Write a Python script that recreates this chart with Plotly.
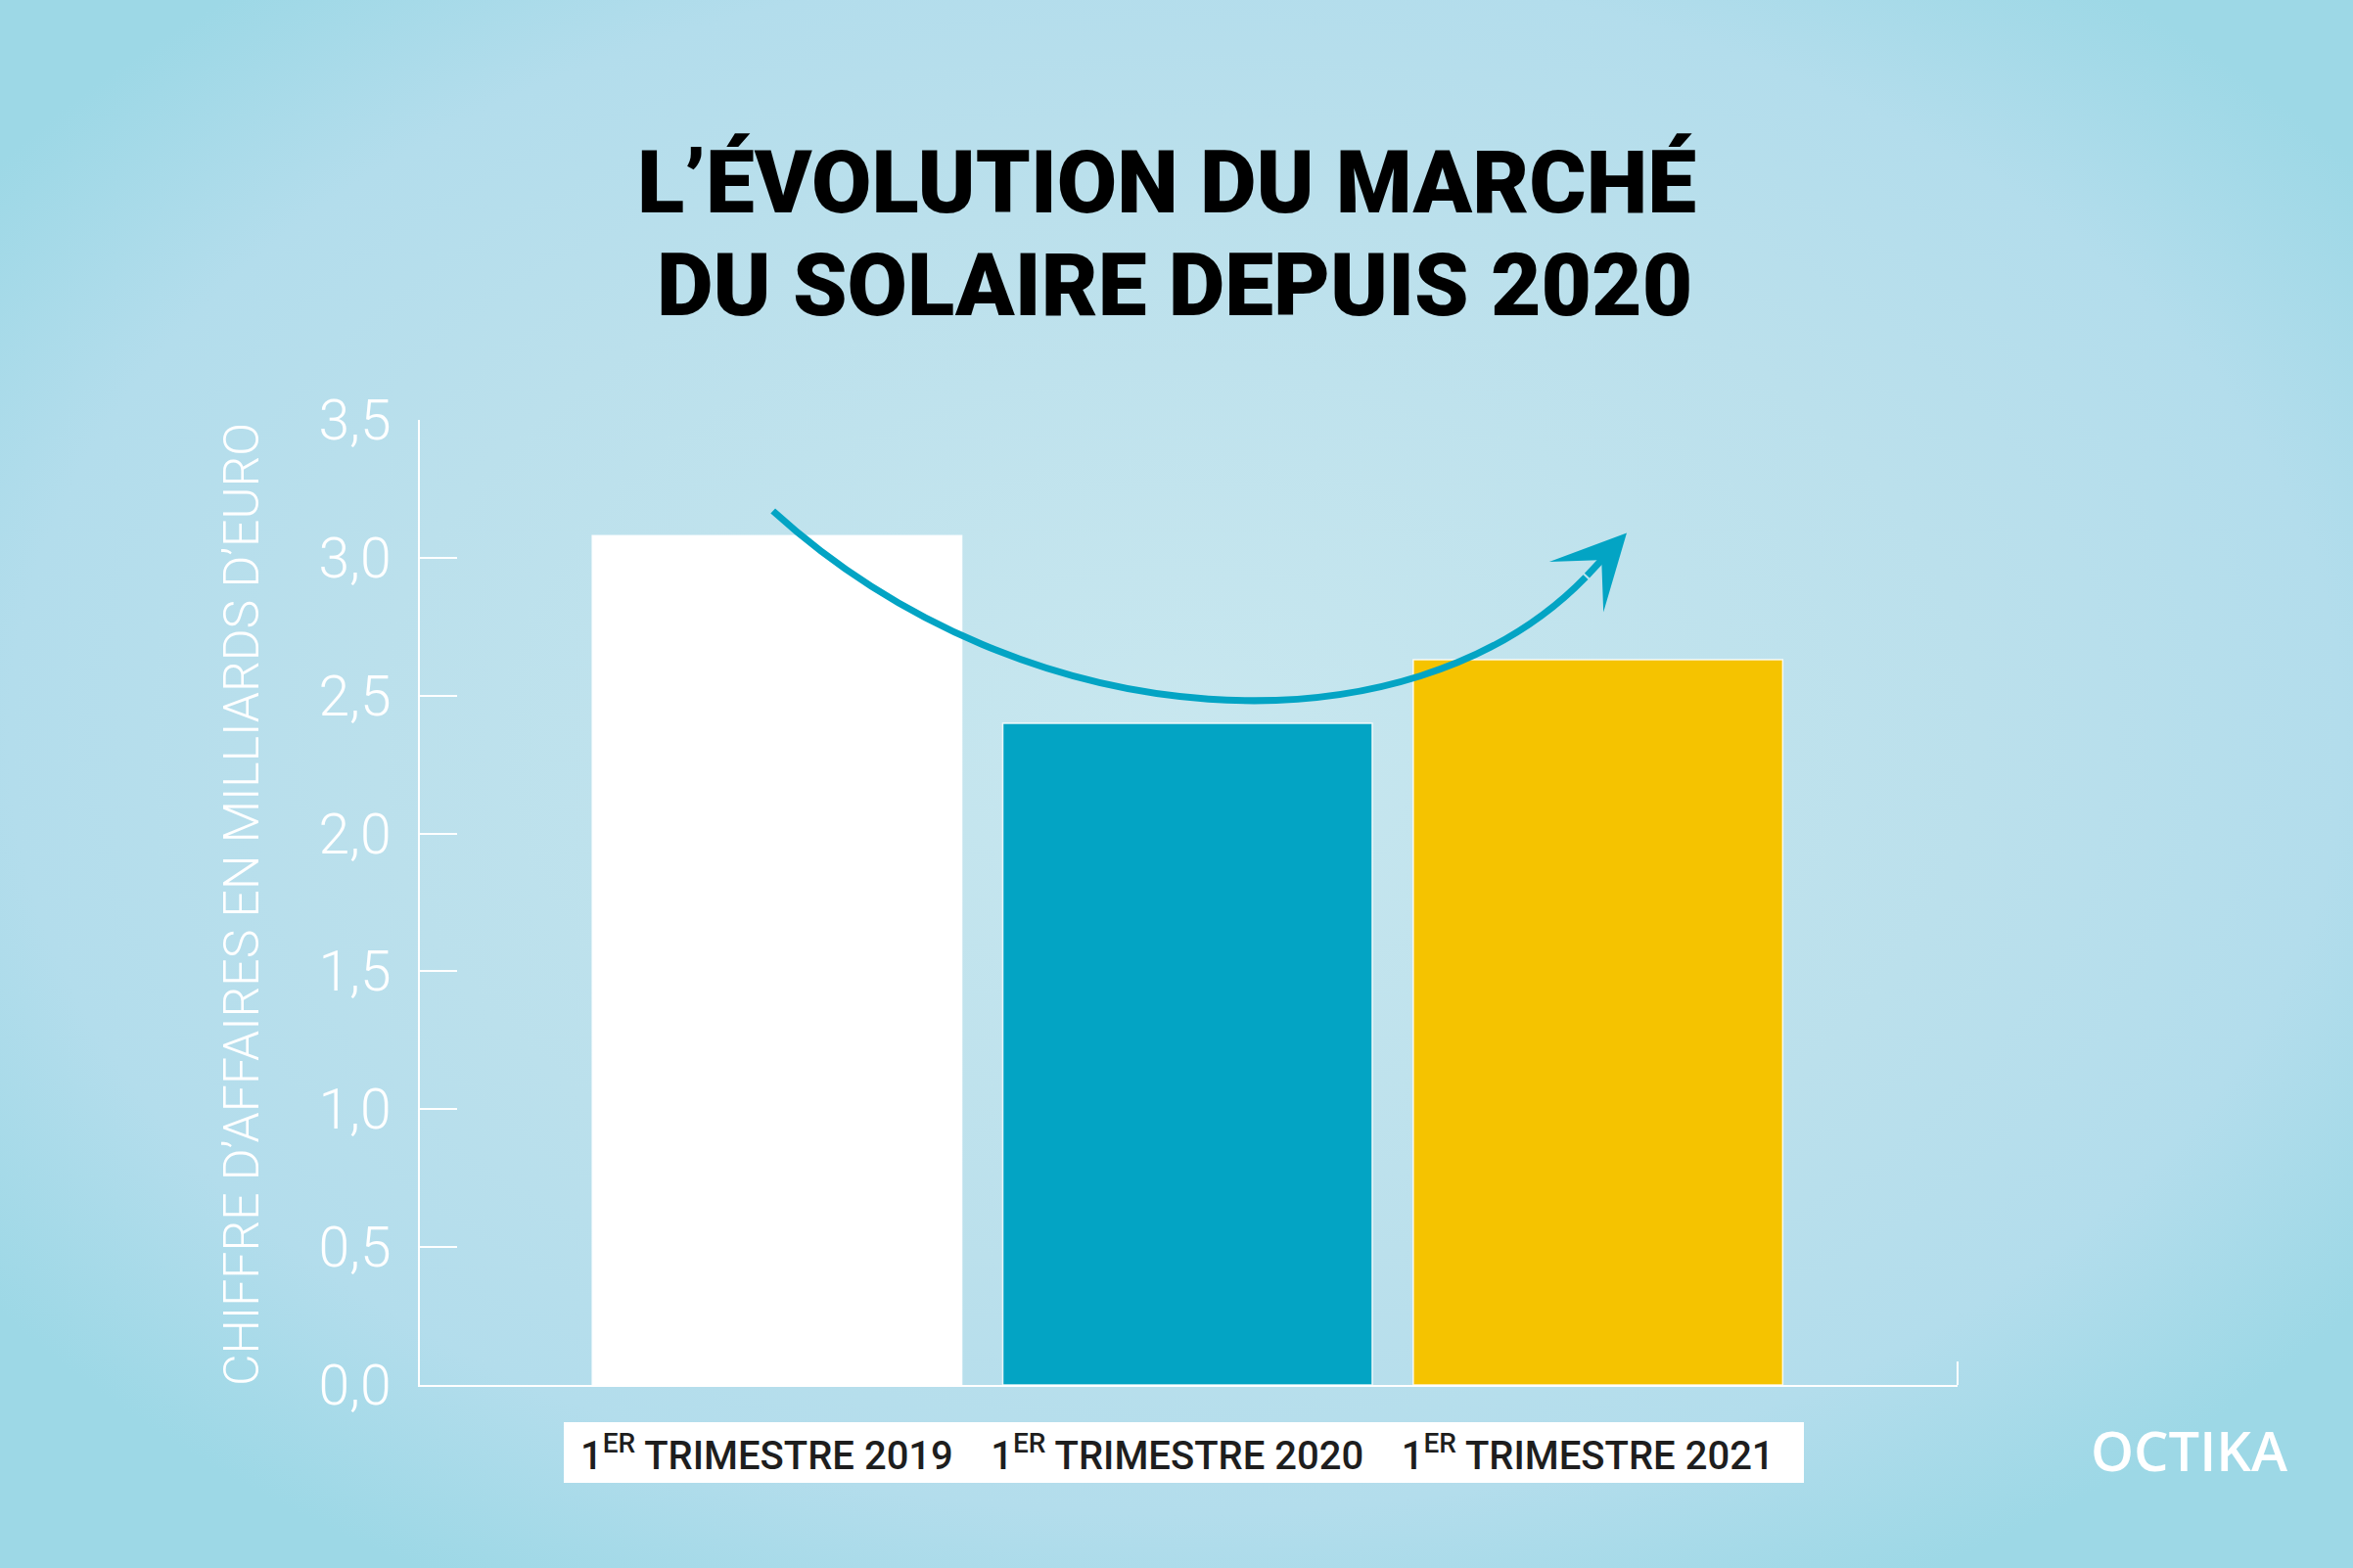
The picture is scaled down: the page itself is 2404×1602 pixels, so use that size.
import base64

import plotly.graph_objects as go

BG_CENTER = "#c8e7ef"
BG_MID = "#b3ddec"
BG_EDGE = "#9dd8e6"
TEAL = "#03a4c4"
YELLOW = "#f5c300"
WHITE = "#ffffff"
TEXT_DARK = "#1e1e1e"

# data
quarters = ["1<sup>ER</sup> TRIMESTRE 2019", "1<sup>ER</sup> TRIMESTRE 2020", "1<sup>ER</sup> TRIMESTRE 2021"]
revenue_bn = [3.08, 2.40, 2.63]
bar_colors = [WHITE, TEAL, YELLOW]
y_ticks = [0.0, 0.5, 1.0, 1.5, 2.0, 2.5, 3.0, 3.5]
title_lines = ["L’ÉVOLUTION DU MARCHÉ", "DU SOLAIRE DEPUIS 2020"]

# decorative arrow (data units): start, two control points, tail of head, tip
arrow_start = (-0.01, 3.17)
arrow_c1 = (0.61, 2.33)
arrow_c2 = (1.54, 2.27)
arrow_tail = (1.97, 2.93)
arrow_tip = (2.07, 3.09)

W, H = 2404, 1602
M_L, M_R, M_T, M_B = 429, 404, 429, 187
PW, PH = W - M_L - M_R, H - M_T - M_B


def _bg_image() -> str:
    svg = (
        '<svg xmlns="http://www.w3.org/2000/svg" width="2404" height="1602" '
        'preserveAspectRatio="none" viewBox="0 0 2404 1602">'
        '<defs><radialGradient id="g" cx="0.5" cy="0.47" r="0.62">'
        f'<stop offset="0" stop-color="{BG_CENTER}"/>'
        f'<stop offset="0.55" stop-color="#bbe0ec"/>'
        f'<stop offset="0.8" stop-color="{BG_MID}"/>'
        f'<stop offset="1" stop-color="{BG_EDGE}"/>'
        '</radialGradient></defs>'
        '<rect width="2404" height="1602" fill="url(#g)"/></svg>'
    )
    return "data:image/svg+xml;base64," + base64.b64encode(svg.encode()).decode()


def _px_x(px: float) -> float:
    """Canvas pixel x -> paper x."""
    return (px - M_L) / PW


def _px_y(py: float) -> float:
    """Canvas pixel y -> paper y."""
    return (H - M_B - py) / PH


fig = go.Figure(
    go.Bar(
        x=list(range(len(quarters))),
        y=revenue_bn,
        width=0.9,
        marker={"color": bar_colors, "line": {"color": "rgba(255,255,255,0.85)", "width": 1.5}},
        hoverinfo="skip",
    )
)

# background gradient over whole canvas
fig.add_layout_image(
    source=_bg_image(),
    xref="paper",
    yref="paper",
    x=_px_x(0),
    y=_px_y(0),
    sizex=W / PW,
    sizey=H / PH,
    xanchor="left",
    yanchor="top",
    sizing="stretch",
    layer="below",
)

# white box behind the category labels
fig.add_shape(
    type="rect",
    xref="paper",
    yref="paper",
    x0=_px_x(576),
    x1=_px_x(1843),
    y0=_px_y(1515),
    y1=_px_y(1453),
    fillcolor=WHITE,
    line={"width": 0},
    layer="below",
)

# small end tick on the x axis
fig.add_shape(
    type="line",
    xref="paper",
    yref="paper",
    x0=1,
    x1=1,
    ysizemode="pixel",
    yanchor=0,
    y0=0,
    y1=24,
    line={"color": WHITE, "width": 2},
)

# curved arrow
fig.add_shape(
    type="path",
    xref="x",
    yref="y",
    path=(
        f"M {arrow_start[0]},{arrow_start[1]} "
        f"C {arrow_c1[0]},{arrow_c1[1]} {arrow_c2[0]},{arrow_c2[1]} {arrow_tail[0]},{arrow_tail[1]}"
    ),
    line={"color": TEAL, "width": 7},
    layer="above",
)
fig.add_annotation(
    x=arrow_tip[0],
    y=arrow_tip[1],
    ax=arrow_tail[0],
    ay=arrow_tail[1],
    xref="x",
    yref="y",
    axref="x",
    ayref="y",
    text="",
    showarrow=True,
    arrowhead=3,
    arrowsize=1.8,
    arrowwidth=7,
    arrowcolor=TEAL,
    standoff=0,
)

# two-line title
for line, cx, cy in zip(title_lines, [1192, 1200], [186, 291]):
    fig.add_annotation(
        text=line,
        xref="paper",
        yref="paper",
        x=_px_x(cx),
        y=_px_y(cy),
        xanchor="center",
        yanchor="middle",
        showarrow=False,
        font={"family": "Roboto", "size": 89, "color": "#000000", "weight": 900},
    )

# y axis title
fig.add_annotation(
    text="CHIFFRE D’AFFAIRES EN MILLIARDS D’EURO",
    xref="paper",
    yref="paper",
    x=_px_x(247),
    y=_px_y(924),
    xanchor="center",
    yanchor="middle",
    textangle=-90,
    showarrow=False,
    font={"family": "Roboto", "size": 50, "color": WHITE, "weight": 300},
)

# logo
fig.add_annotation(
    text="OCTIKA",
    xref="paper",
    yref="paper",
    x=_px_x(2236),
    y=_px_y(1481),
    xanchor="center",
    yanchor="middle",
    showarrow=False,
    font={"family": "Open Sans", "size": 56, "color": WHITE, "weight": 600},
)

fig.update_layout(
    width=W,
    height=H,
    margin={"l": M_L, "r": M_R, "t": M_T, "b": M_B},
    xaxis={
        "range": [-0.87, 2.876],
        "tickvals": [i - 0.025 for i in range(len(quarters))],
        "ticktext": quarters,
        "showline": True,
        "linecolor": WHITE,
        "linewidth": 2,
        "ticks": "",
        "showgrid": False,
        "zeroline": False,
        "ticklabelstandoff": 36,
        "tickfont": {"family": "Roboto", "size": 40, "color": TEXT_DARK, "weight": 500},
    },
    yaxis={
        "range": [0, 3.5],
        "tickvals": y_ticks,
        "tickformat": ".1f",
        "showline": True,
        "linecolor": WHITE,
        "linewidth": 2,
        "ticks": "inside",
        "ticklen": 38,
        "tickwidth": 2,
        "tickcolor": WHITE,
        "showgrid": False,
        "zeroline": False,
        "ticklabelstandoff": 16,
        "tickfont": {"family": "Roboto", "size": 57, "color": WHITE, "weight": 300},
    },
    separators=", ",
    plot_bgcolor="rgba(0,0,0,0)",
    paper_bgcolor=BG_EDGE,
    showlegend=False,
)

fig.write_html(
    "out.html",
    config={"displayModeBar": False},
    post_script="document.body.style.margin='0';document.body.style.overflow='hidden';",
)
